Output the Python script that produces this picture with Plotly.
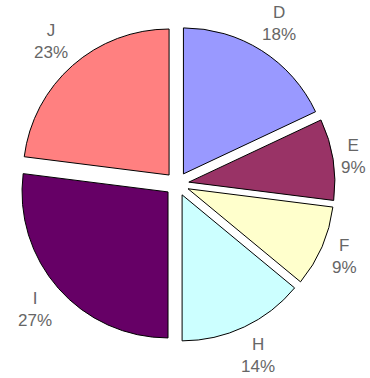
import math
import plotly.graph_objects as go

labels = ["D", "E", "F", "H", "I", "J"]
values = [18, 9, 9, 14, 27, 23]
colors = ["#9999FF", "#993366", "#FFFFCC", "#CCFFFF", "#660066", "#FF8080"]

W, H = 370, 378
pull = 0.082
dom_x = [0.0514, 0.9054]
dom_y = [0.0952, 0.9312]

fig = go.Figure(go.Pie(
    labels=labels, values=values, sort=False, direction="clockwise",
    rotation=0, pull=[pull] * len(values),
    marker=dict(colors=colors, line=dict(color="#000000", width=1)),
    textinfo="none", hoverinfo="label+percent", showlegend=False,
    domain=dict(x=dom_x, y=dom_y),
))

# label annotations positioned from the data (mid-angle of each slice)
cx = (dom_x[0] + dom_x[1]) / 2 * W
cy = (dom_y[0] + dom_y[1]) / 2 * H
rdom = min((dom_x[1] - dom_x[0]) * W, (dom_y[1] - dom_y[0]) * H) / 2
r0 = rdom + 7
total = sum(values)
cum = 0
fs = 17
anns = []
for lab, v in zip(labels, values):
    mid = (cum + v / 2) / total * 2 * math.pi
    cum += v
    pct = f"{round(v / total * 100)}%"
    hw = len(pct) * fs * 0.3
    hh = fs * 1.2
    s, c = math.sin(mid), math.cos(mid)
    d = r0 + abs(s) * hw + abs(c) * hh
    x = cx + s * d
    y = cy + c * d
    anns.append(dict(
        x=x / W, y=y / H, xref="paper", yref="paper",
        text=f"{lab}<br>{pct}", showarrow=False,
        xanchor="center", yanchor="middle", align="center",
        font=dict(family="Liberation Sans, Arial, sans-serif", size=fs, color="#666666"),
    ))

fig.update_layout(
    width=W, height=H, margin=dict(l=0, r=0, t=0, b=0),
    paper_bgcolor="white", plot_bgcolor="white",
    annotations=anns,
)
fig.write_html("out.html")
